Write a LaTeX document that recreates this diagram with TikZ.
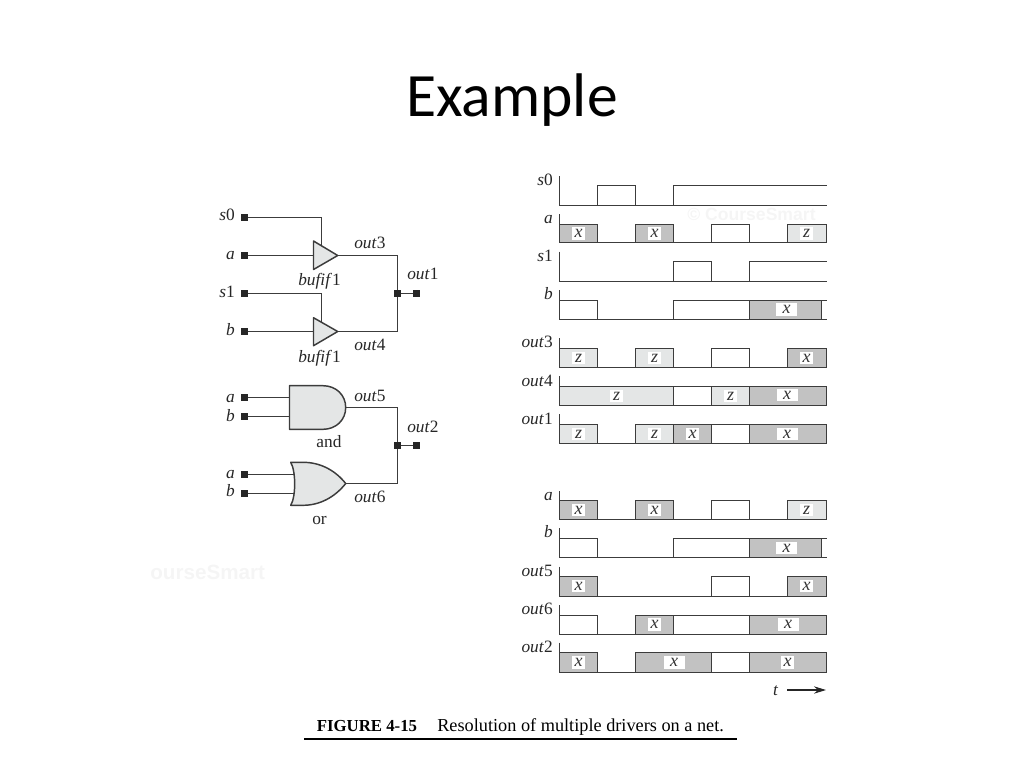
\documentclass[tikz,border=0pt]{standalone}
\usepackage{fontspec}
\setmainfont{Liberation Serif}
\newfontfamily\titlefont{Carlito}
\newfontfamily\markfont{Liberation Sans}
\usetikzlibrary{arrows.meta}
\definecolor{lightz}{HTML}{E4E6E6}
\definecolor{darkx}{HTML}{C2C2C2}
\definecolor{sigline}{HTML}{3C3C3C}
\newcounter{tagc}
\newcommand\RowBase[2]{\draw[sig] (559.5,#1) -- (559.5,#2) -- (826.5,#2);}
\newcommand\Pulse[5]{\draw[sig,fill=#5] (#1,#4) rectangle (#2,#3);}
\newcommand\OpenTop[3]{\draw[sig] (#1,#3) -- (#1,#2) -- (826.5,#2);}
\newcommand\Tag[4][13]{\stepcounter{tagc}\node[tagbox,minimum width=#1*0.75pt] (tag\thetagc) at (#2,#3) {\textit{#4}};}
\newcommand\RowName[3]{\stepcounter{tagc}\node[rowlab] (row\thetagc) at (553,#1) {\textit{#2}#3};}
\tikzset{
  sig/.style={draw=sigline,line width=0.85pt},
  wire/.style={draw=sigline,line width=0.85pt},
  gate/.style={draw=sigline,line width=1.1pt,fill=lightz,line join=round},
  pad/.style={draw=none,fill=black!85,minimum size=5.4pt,inner sep=0pt,outer sep=0pt},
  tagbox/.style={fill=white,inner sep=0pt,minimum height=9.5pt,text=black!80,font=\fontsize{13.5pt}{13.5pt}\selectfont},
  rowlab/.style={anchor=base east,inner sep=0pt,text=black!85,font=\fontsize{13pt}{14pt}\selectfont},
  cirlab/.style={inner sep=0pt,text=black!85,font=\fontsize{13pt}{14pt}\selectfont},
  watermark/.style={inner sep=0pt,text=black!4,font=\markfont\bfseries\fontsize{13.2pt}{14pt}\selectfont}
}
\begin{document}
\begin{tikzpicture}[x=0.75pt,y=-0.75pt]
\useasboundingbox (0,0) rectangle (1024,768);
% title
\node[anchor=base,inner sep=0pt,font=\titlefont\fontsize{46.2pt}{50pt}\selectfont] (title) at (512,116) {Example};
% watermarks
\node[watermark,anchor=west] (wm1) at (150,572) {\fontsize{15.5pt}{16pt}\selectfont ourseSmart};
\node[watermark,anchor=west] (wm2) at (687,214) {© CourseSmart};
% ---- tristate circuit
\node[pad] (s0p) at (244.5,217.5) {};
\node[pad] (ap) at (244.5,255.5) {};
\node[pad] (s1p) at (244.5,293.5) {};
\node[pad] (bp) at (244.5,331.5) {};
\coordinate (b1in) at (313.5,255.5);
\coordinate (b1tip) at (337.7,255.5);
\coordinate (b1ctl) at (321.5,245);
\coordinate (b2in) at (313.5,331.5);
\coordinate (b2tip) at (337.7,331.5);
\coordinate (b2ctl) at (321.5,321.7);
\node[pad] (j1) at (397.5,293.5) {};
\node[pad] (o1p) at (416.5,293.5) {};
\draw[wire] (s0p) -| (b1ctl);
\draw[wire] (s1p) -| (b2ctl);
\draw[wire] (ap) -- (b1in);
\draw[wire] (bp) -- (b2in);
\draw[gate] (313.5,241) -- (b1tip) -- (313.5,269.5) -- cycle;
\draw[gate] (313.5,317.7) -- (b2tip) -- (313.5,345.7) -- cycle;
\draw[wire] (b1tip) -| (j1);
\draw[wire] (b2tip) -| (j1);
\draw[wire] (j1) -- (o1p);
\node[cirlab,anchor=base east] (ls0) at (235,220.7) {\textit{s}0};
\node[cirlab,anchor=base east] (la) at (235,259) {\textit{a}};
\node[cirlab,anchor=base east] (ls1) at (235,297) {\textit{s}1};
\node[cirlab,anchor=base east] (lb) at (235,335) {\textit{b}};
\node[cirlab,anchor=base west] (lo3) at (354,248.3) {\textit{out}3};
\node[cirlab,anchor=base west] (lo4) at (354,350) {\textit{out}4};
\node[cirlab,anchor=base west] (lo1) at (407,279.3) {\textit{out}1};
\node[cirlab,anchor=base] (lb1) at (319.5,285.7) {\textit{bufif}1};
\node[cirlab,anchor=base] (lb2) at (319.5,362.7) {\textit{bufif}1};
% ---- gate circuit
\node[pad] (a2p) at (244.5,397.5) {};
\node[pad] (b2p) at (244.5,416.5) {};
\node[pad] (a3p) at (244.5,474.5) {};
\node[pad] (b3p) at (244.5,493.5) {};
\coordinate (andA) at (289.5,397.5);
\coordinate (andB) at (289.5,416.5);
\coordinate (andT) at (345.7,407.5);
\coordinate (orA) at (294,474.5);
\coordinate (orB) at (294,493.5);
\coordinate (orT) at (345.7,483.5);
\node[pad] (j2) at (397.5,445.5) {};
\node[pad] (o2p) at (416.5,445.5) {};
\draw[wire] (a2p) -- (andA);
\draw[wire] (b2p) -- (andB);
\draw[wire] (a3p) -- (orA);
\draw[wire] (b3p) -- (orB);
\draw[gate] (289.5,385.7) -- (323,385.7) .. controls (336,385.7) and (345.7,395) .. (andT) .. controls (345.7,420) and (336,429.3) .. (323,429.3) -- (289.5,429.3) -- cycle;
\draw[gate] (290.7,462.3) -- (303,462.3) .. controls (320,462.3) and (335,470) .. (orT) .. controls (335,497) and (320,505.3) .. (303,505.3) -- (290.7,505.3) .. controls (296,497) and (296,471) .. (290.7,462.3) -- cycle;
\draw[wire] (andT) -| (j2);
\draw[wire] (orT) -| (j2);
\draw[wire] (j2) -- (o2p);
\node[cirlab,anchor=base east] (la2) at (235,402) {\textit{a}};
\node[cirlab,anchor=base east] (lb2b) at (235,421) {\textit{b}};
\node[cirlab,anchor=base east] (la3) at (235,478.3) {\textit{a}};
\node[cirlab,anchor=base east] (lb3) at (235,496.7) {\textit{b}};
\node[cirlab,anchor=base west] (lo5) at (354,401.7) {\textit{out}5};
\node[cirlab,anchor=base west] (lo6) at (354,502.3) {\textit{out}6};
\node[cirlab,anchor=base west] (lo2) at (407,432.3) {\textit{out}2};
\node[cirlab,anchor=base] (land) at (329,447.7) {and};
\node[cirlab,anchor=base] (lor) at (319.5,524) {or};
% ---- waveforms
% s0
\RowName{185.2}{s}{0}
\RowBase{176}{205.5}
\Pulse{597.5}{635.5}{185.5}{205.5}{white}
\OpenTop{673.5}{185.5}{205.5}
% a
\RowName{223.8}{a}{}
\RowBase{214.3}{242.5}
\Pulse{559.5}{597.5}{224.5}{242.5}{darkx}
\Pulse{635.5}{673.5}{224.5}{242.5}{darkx}
\Pulse{711.5}{749.5}{224.5}{242.5}{white}
\Pulse{787.5}{826.5}{224.5}{242.5}{lightz}
\Tag{578.5}{233.5}{x}\Tag{654.7}{233.5}{x}\Tag{806.7}{233.5}{z}
% s1
\RowName{261.2}{s}{1}
\RowBase{251.7}{281.5}
\Pulse{673.5}{711.5}{261.5}{281.5}{white}
\OpenTop{749.5}{261.5}{281.5}
% b
\RowName{299.8}{b}{}
\RowBase{290.3}{319.5}
\Pulse{559.5}{597.5}{300.5}{319.5}{white}
\Pulse{673.5}{749.5}{300.5}{319.5}{white}
\Pulse{749.5}{821.5}{300.5}{319.5}{darkx}
\draw[sig] (821.5,300.5) -- (826.5,300.5);
\Tag[21]{786.5}{309.5}{x}
% out3
\RowName{347.5}{out}{3}
\RowBase{338.3}{367.5}
\Pulse{559.5}{597.5}{348.5}{367.5}{lightz}
\Pulse{635.5}{673.5}{348.5}{367.5}{lightz}
\Pulse{711.5}{749.5}{348.5}{367.5}{white}
\Pulse{787.5}{826.5}{348.5}{367.5}{darkx}
\Tag{578.5}{358}{z}\Tag{654.7}{358}{z}\Tag{806.7}{358}{x}
% out4
\RowName{386.2}{out}{4}
\RowBase{376}{405.5}
\Pulse{559.5}{673.5}{386.5}{405.5}{lightz}
\Pulse{673.5}{711.5}{386.5}{405.5}{white}
\Pulse{711.5}{749.5}{386.5}{405.5}{lightz}
\Pulse{749.5}{826.5}{386.5}{405.5}{darkx}
\Tag{616.5}{396}{z}\Tag{730.5}{396}{z}\Tag[21]{787}{395}{x}
% out1
\RowName{424}{out}{1}
\RowBase{414.3}{443.5}
\Pulse{559.5}{597.5}{424.5}{443.5}{lightz}
\Pulse{635.5}{673.5}{424.5}{443.5}{lightz}
\Pulse{673.5}{711.5}{424.5}{443.5}{darkx}
\Pulse{711.5}{749.5}{424.5}{443.5}{white}
\Pulse{749.5}{826.5}{424.5}{443.5}{darkx}
\Tag{578.5}{434}{z}\Tag{654.7}{434}{z}\Tag{692.5}{434}{x}\Tag[21]{787}{434}{x}
% a (second)
\RowName{500.2}{a}{}
\RowBase{491}{519.5}
\Pulse{559.5}{597.5}{500.5}{519.5}{darkx}
\Pulse{635.5}{673.5}{500.5}{519.5}{darkx}
\Pulse{711.5}{749.5}{500.5}{519.5}{white}
\Pulse{787.5}{826.5}{500.5}{519.5}{lightz}
\Tag{578.5}{510}{x}\Tag{654.7}{510}{x}\Tag{806.7}{510}{z}
% b (second)
\RowName{537.8}{b}{}
\RowBase{528.3}{557.5}
\Pulse{559.5}{597.5}{538.5}{557.5}{white}
\Pulse{673.5}{749.5}{538.5}{557.5}{white}
\Pulse{749.5}{821.5}{538.5}{557.5}{darkx}
\draw[sig] (821.5,538.5) -- (826.5,538.5);
\Tag[21]{786.5}{548}{x}
% out5
\RowName{576.2}{out}{5}
\RowBase{566.7}{596.5}
\Pulse{559.5}{597.5}{576.5}{596.5}{darkx}
\Pulse{711.5}{749.5}{576.5}{596.5}{white}
\Pulse{787.5}{826.5}{576.5}{596.5}{darkx}
\Tag{578.5}{586}{x}\Tag{806.7}{586}{x}
% out6
\RowName{614.5}{out}{6}
\RowBase{605}{634.5}
\Pulse{559.5}{597.5}{615.5}{634.5}{white}
\Pulse{635.5}{673.5}{615.5}{634.5}{darkx}
\Pulse{673.5}{749.5}{615.5}{634.5}{white}
\Pulse{749.5}{826.5}{615.5}{634.5}{darkx}
\Tag{654.7}{624.5}{x}\Tag[21]{788}{624.5}{x}
% out2
\RowName{652.2}{out}{2}
\RowBase{642.7}{672.5}
\Pulse{559.5}{597.5}{652.5}{672.5}{darkx}
\Pulse{635.5}{711.5}{652.5}{672.5}{darkx}
\Pulse{711.5}{749.5}{652.5}{672.5}{white}
\Pulse{749.5}{826.5}{652.5}{672.5}{darkx}
\Tag{578.5}{662.5}{x}\Tag[21]{674}{662.5}{x}\Tag{787.5}{662.5}{x}
% time arrow
\node[cirlab,anchor=base] (tlab) at (775.7,695) {\textit{t}};
\coordinate (tA) at (787,690);
\coordinate (tB) at (826,690);
\draw[black!85,line width=0.9pt,-{Stealth[length=9pt,width=5.5pt]}] (tA) -- (tB);
% caption
\node[anchor=base west,inner sep=0pt,font=\bfseries\fontsize{12.6pt}{13pt}\selectfont] (capA) at (316.5,731) {FIGURE 4-15};
\node[anchor=base west,inner sep=0pt,font=\fontsize{13.7pt}{14pt}\selectfont] (capB) at (437,731) {Resolution of multiple drivers on a net.};
\coordinate (ruleA) at (304,739);
\coordinate (ruleB) at (737,739);
\draw[black,line width=1.4pt] (ruleA) -- (ruleB);
\end{tikzpicture}
\end{document}
